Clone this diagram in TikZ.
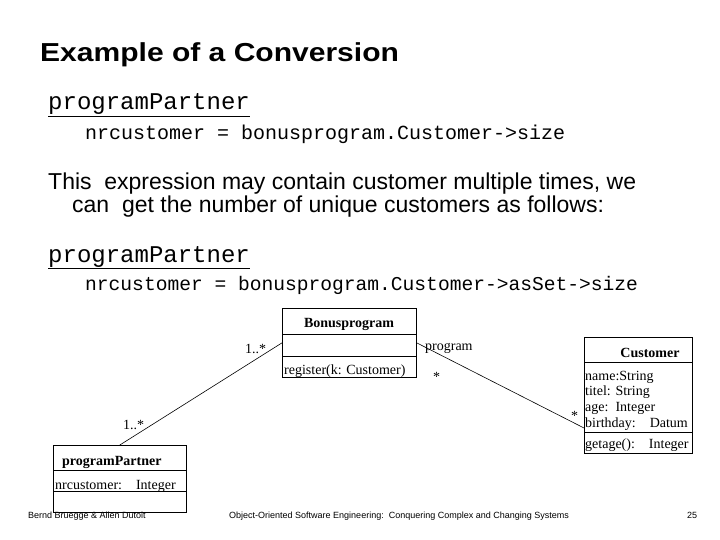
\documentclass[tikz,border=0pt]{standalone}
\usepackage{fontspec}
\setmainfont{Liberation Serif}
\newfontfamily\arialf{Liberation Sans}
\newfontfamily\courf{Liberation Mono}
\begin{document}
\begin{tikzpicture}[x=1pt,y=-1pt,
  txt/.style={anchor=base west,inner sep=0pt},
  umlbox/.style={draw,line width=0.7pt,rectangle,inner sep=0pt,anchor=north west},
  assoc/.style={draw,line width=0.6pt},
  uml/.style={txt,font=\fontsize{14}{16}\selectfont},
  foot/.style={txt,font=\arialf\fontsize{9}{10}\selectfont}
]
\useasboundingbox[fill=white] (0,0) rectangle (720,540);
% title and text
\node[txt,font=\arialf\bfseries\fontsize{26}{30}\selectfont] (title) at (40,62) {\scalebox{1.155}[1]{Example of a Conversion}};
\node[txt,font=\courf\fontsize{24}{28}\selectfont] (pp1) at (48,110) {\underline{programPartner}};
\node[txt,font=\courf\fontsize{20}{24}\selectfont] (ex1) at (85,140) {nrcustomer = bonusprogram.Customer->size};
\node[txt,font=\arialf\fontsize{23}{26}\selectfont] (p1) at (48,190) {This\ \ expression may contain customer multiple times, we};
\node[txt,font=\arialf\fontsize{23}{26}\selectfont] (p2) at (72,212) {can\ \ get the number of unique customers as follows:};
\node[txt,font=\courf\fontsize{24}{28}\selectfont] (pp2) at (48,262) {\underline{programPartner}};
\node[txt,font=\courf\fontsize{19.6}{24}\selectfont] (ex2) at (85,290) {nrcustomer = bonusprogram.Customer->asSet->size};
% Bonusprogram
\node[umlbox,minimum width=134pt,minimum height=69pt] (bp) at (282,308) {};
\draw[line width=0.7pt] (282,334) -- (416,334) (282,356) -- (416,356);
\node[uml,font=\bfseries\fontsize{14}{16}\selectfont,anchor=base] (bpt) at (349,327) {Bonusprogram};
\node[uml] (bpm) at (284,374) {register(k: Customer)};
% Customer
\node[umlbox,minimum width=108pt,minimum height=116pt] (cu) at (584,337) {};
\draw[line width=0.7pt] (584,362) -- (692,362) (584,432) -- (692,432);
\node[uml,font=\bfseries\fontsize{14}{16}\selectfont,anchor=base] (cut) at (650,357) {Customer};
\node[uml] (ca1) at (585,380) {name:String};
\node[uml] (ca2) at (585,395) {titel: String};
\node[uml] (ca3) at (585,411) {age:\ \ Integer};
\node[uml] (ca4) at (585,427) {birthday:\ \ \ \ Datum};
\node[uml] (cm1) at (585,448) {getage():\ \ \ \ Integer};
\coordinate (cuend) at (584,428);
% programPartner
\node[umlbox,minimum width=133pt,minimum height=67pt] (pp) at (53,445) {};
\draw[line width=0.7pt] (53,470) -- (186,470) (53,491) -- (186,491);
\node[uml,font=\bfseries\fontsize{14}{16}\selectfont] (ppt) at (62,465) {programPartner};
\node[uml] (ppa) at (55,489) {nrcustomer:\ \ \ \ Integer};
% associations
\draw[assoc] (bp.west) -- (pp.north);
\draw[assoc] (bp.east) -- (cuend);
\node[uml] (m1) at (245,353) {1..*};
\node[uml] (m2) at (123,429) {1..*};
\node[uml] (r1) at (425,350) {program};
\node[uml] (m3) at (433,381) {*};
\node[uml] (m4) at (571,420) {*};
% footer
\node[foot] (f1) at (28,518) {Bernd Bruegge \& Allen Dutoit};
\node[foot] (f2) at (229,518) {Object-Oriented Software Engineering:\ \ Conquering Complex and Changing Systems};
\node[foot] (f3) at (687,518) {25};
\end{tikzpicture}
\end{document}
